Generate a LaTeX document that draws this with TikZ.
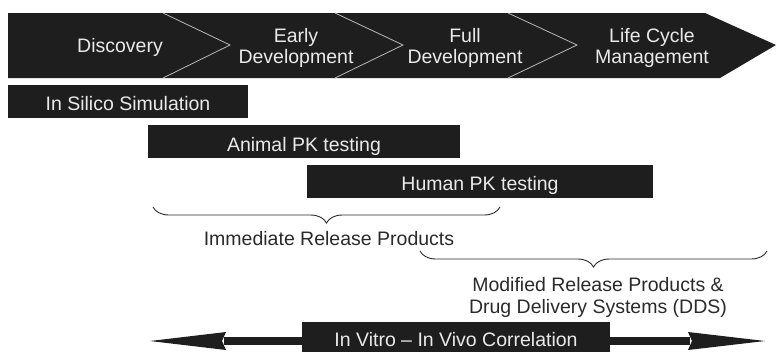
\documentclass[tikz,border=0pt]{standalone}
\usepackage{fontspec}
\setmainfont{Liberation Sans}
\usetikzlibrary{decorations.pathreplacing}
\definecolor{dark}{HTML}{1E1E1E}
\definecolor{lighttext}{HTML}{EAEAEA}
\definecolor{labeltext}{HTML}{2A2A2A}
\definecolor{chevline}{HTML}{B8B8B8}
\begin{document}
\begin{tikzpicture}[x=1pt,y=-1pt,
  bar/.style={fill=dark,draw=none},
  bartext/.style={text=lighttext,font=\fontsize{19.5}{21}\selectfont,align=center,inner sep=0pt},
  lbl/.style={text=labeltext,font=\fontsize{19.5}{22}\selectfont,align=center,inner sep=0pt},
  chev/.style={draw=chevline,line width=0.8pt},
  bracestyle/.style={draw=labeltext,line width=0.9pt,decorate,decoration={brace,mirror,amplitude=16pt}}
]
\useasboundingbox (0,0) rectangle (777,351);
% top banner
\fill[dark] (8,13) -- (705,13) -- (776,45) -- (720,78) -- (8,78) -- cycle;
\draw[chev] (163,13) -- (230,45) -- (163,78);
\draw[chev] (335,13) -- (403,45) -- (335,78);
\draw[chev] (508,13) -- (577,45) -- (508,78);
\node[bartext,anchor=base] (disc) at (120,52) {Discovery};
\node[bartext] (early) at (296,48) {Early\\Development};
\node[bartext] (full) at (465,48) {Full\\Development};
\node[bartext] (life) at (652,48) {Life Cycle\\Management};
% bars
\fill[bar] (8,85) rectangle (248,118);
\node[bartext,anchor=base] (silico) at (128,110) {In Silico Simulation};
\fill[bar] (148,125) rectangle (460,158);
\node[bartext,anchor=base] (animal) at (304,151) {Animal PK testing};
\fill[bar] (307,165) rectangle (653,198);
\node[bartext,anchor=base] (human) at (480,190) {Human PK testing};
% braces
\coordinate (b1l) at (153,207);
\coordinate (b1r) at (500,207);
\draw[bracestyle] (b1l) -- (b1r);
\node[lbl,anchor=base] (irp) at (329,245) {Immediate Release Products};
\coordinate (b2l) at (420,251);
\coordinate (b2r) at (767,251);
\draw[bracestyle] (b2l) -- (b2r);
\node[lbl,anchor=base] (mrp) at (598,291) {Modified Release Products \&};
\node[lbl,anchor=base] (dds) at (598,313) {Drug Delivery Systems (DDS)};
% bottom arrow
\fill[dark] (224,337) rectangle (690,345);
\fill[dark] (150,341) -- (226,332) -- (222,341) -- (226,350) -- cycle;
\fill[dark] (765,341) -- (688,332) -- (692,341) -- (688,350) -- cycle;
\fill[bar] (302,322) rectangle (610,353);
\node[bartext,anchor=base] (ivivc) at (456,346) {In Vitro – In Vivo Correlation};
\end{tikzpicture}
\end{document}
